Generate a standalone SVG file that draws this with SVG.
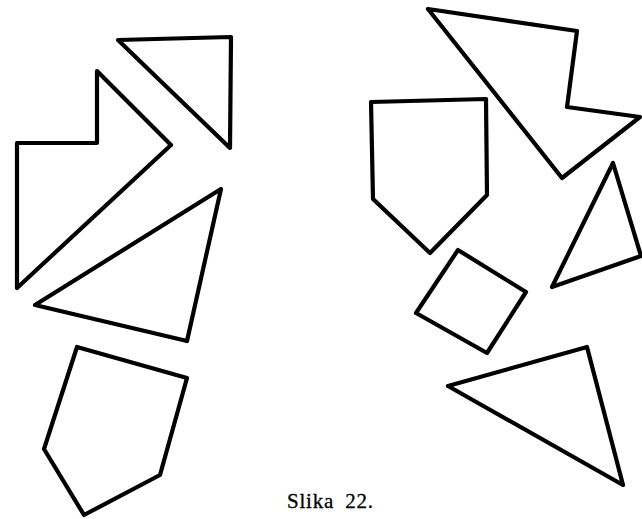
<svg xmlns="http://www.w3.org/2000/svg" width="642" height="519" viewBox="0 0 642 519">
<style>
.p{fill:none;stroke:#000;stroke-width:4.2;stroke-linejoin:round;stroke-linecap:round}
.t{font-family:"Liberation Serif","Times New Roman",serif;font-size:21px;fill:#000;letter-spacing:0.8px;word-spacing:5px;stroke:#000;stroke-width:0.3}
</style>
<rect width="642" height="519" fill="#fff"/>
<g id="arrow"><polygon class="p" points="17,143 97,143 97,71 171,145 17,288"/></g>
<g id="triangle-top-left"><polygon class="p" points="118,40 231,37 230,148"/></g>
<g id="triangle-left"><polygon class="p" points="35,305 221,189 187,341"/></g>
<g id="pentagon-left"><polygon class="p" points="77,347 187,378 160,475 84,515 44,449"/></g>
<g id="zigzag"><polygon class="p" points="428,9 577,31 567,107 640,117 562,178"/></g>
<g id="pentagon-right"><polygon class="p" points="371,102 486,99 487,195 430,253 373,199"/></g>
<g id="square"><polygon class="p" points="458,250 526,292 487,353 416,313"/></g>
<g id="triangle-right"><polygon class="p" points="613,163 641,256 552,287"/></g>
<g id="triangle-bottom-right"><polygon class="p" points="448,386 587,347 623,485"/></g>
<text class="t" x="287" y="508">Slika 22.</text>
</svg>
